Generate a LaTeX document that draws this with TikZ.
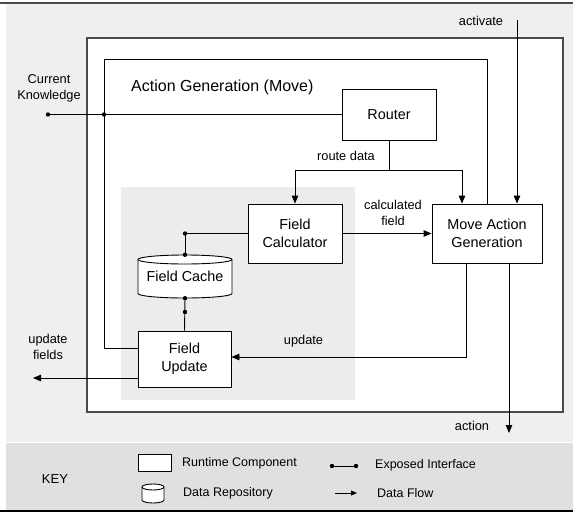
\documentclass[tikz,border=0pt]{standalone}
\usepackage{fontspec}
\setmainfont{Liberation Sans}
\usetikzlibrary{arrows.meta,calc}
\definecolor{panelgray}{HTML}{EFEFEF}
\definecolor{keygray}{HTML}{E0E0E0}
\definecolor{groupgray}{HTML}{ECECEC}
\definecolor{framegray}{HTML}{4A4A4A}
\tikzset{
  comp/.style={draw=black, fill=white, line width=0.9pt, align=center,
    font=\fontsize{14.4}{18}\selectfont, inner sep=0pt},
  lbl/.style={align=center, font=\fontsize{12.8}{16}\selectfont, inner sep=0pt},
  keytext/.style={anchor=west, font=\fontsize{12.5}{15}\selectfont, inner sep=0pt},
  wire/.style={line width=0.9pt, draw=black},
  flow/.style={wire, -{Triangle[length=8pt,width=6.5pt]}},
  dotmark/.style={fill=black},
}
\newcommand{\ifdot}[1]{\fill[dotmark] (#1) circle[radius=2.2pt];}
\begin{document}
\begin{tikzpicture}[x=1pt,y=-1pt]
\useasboundingbox (0,0) rectangle (573,514);

% page background bands
\fill[panelgray] (6,3) rectangle (573,442);
\fill[keygray] (6,443) rectangle (573,511);
\draw[framegray, line width=1.1pt] (0,3) -- (573,3);
\draw[black, line width=1.4pt] (0,511) -- (573,511);

% outer frame and grouping area
\draw[framegray, line width=1.1pt, fill=white] (87,38) rectangle (563,412);
\fill[groupgray] (121,187) rectangle (355,400);

% components
\node[comp, minimum width=94pt, minimum height=51pt] (router) at (389,114.5) {Router};
\node[comp, minimum width=94pt, minimum height=59pt] (fc) at (295,233.5) {Field\\Calculator};
\node[comp, minimum width=110pt, minimum height=59pt] (mag) at (487,233.5) {Move Action\\Generation};
\node[comp, minimum width=93pt, minimum height=56pt] (fu) at (184.5,359) {Field\\Update};

% data repository (cylinder drawn around its node)
\draw[line width=0.9pt, fill=white]
  (138,259.5) -- (138,293.5) arc[start angle=180, end angle=360, x radius=47pt, y radius=4.5pt]
  -- (232,259.5) arc[start angle=0, end angle=180, x radius=47pt, y radius=4.5pt] -- cycle;
\draw[line width=0.9pt] (138,259.5) arc[start angle=180, end angle=360, x radius=47pt, y radius=4.5pt];
\node[minimum width=94pt, minimum height=43pt, inner sep=0pt,
  font=\fontsize{14.4}{18}\selectfont] (cache) at (185,276.5) {Field Cache};

% labels
\node[anchor=west, inner sep=0pt, font=\fontsize{16}{19}\selectfont] (title) at (131,87) {Action Generation (Move)};
\node[lbl] (cklbl) at (49,88) {Current\\Knowledge};
\node[lbl] (rdlbl) at (346,156) {route data};
\node[lbl] (cflbl) at (393,213) {calculated\\field};
\node[lbl] (uplbl) at (303.5,341) {update};
\node[lbl] (uflbl) at (48,347) {update\\fields};
\node[lbl] (actlbl) at (481,21) {activate};
\node[lbl] (outlbl) at (472,426) {action};

% free connector ends
\coordinate (ck) at (48,114.5);
\coordinate (j1) at (104,114.5);
\coordinate (rsplit) at (389,170);
\coordinate (actin) at (517,20);
\coordinate (actout) at (509,433);
\coordinate (ufout) at (33,378);
\coordinate (fcjoin) at (185,233.5);
\coordinate (fuif) at (185,312);

% current knowledge into router, and its branches
\draw[wire] (ck) -- (router.west);
\draw[wire] (j1) |- ([yshift=11pt]fu.west);
\draw[wire] (j1) -- (104,59) -- (487,59) -- (mag.north);
\ifdot{ck}
\ifdot{j1}

% route data
\draw[wire] (router.south) -- (rsplit);
\draw[flow] (rsplit) -| (fc.north);
\draw[flow] (rsplit) -| ([xshift=-25pt]mag.north);

% activation and action
\draw[flow] (actin) -- (actin |- mag.north);
\draw[flow] ([xshift=22pt]mag.south) -- (actout);

% calculated field and update
\draw[flow] (fc.east) -- (mag.west);
\draw[flow] ([xshift=-21pt]mag.south) |- ([yshift=2pt]fu.east);
\draw[flow] ([yshift=-19pt]fu.west) -- (ufout);

% field cache interfaces
\draw[wire] (fc.west) -- (fcjoin) -- (cache.north);
\draw[wire] (cache.south) -- (fu.north);
\ifdot{fcjoin}
\ifdot{cache.north}
\ifdot{cache.south}
\ifdot{fuif}

% key
\node[inner sep=0pt, font=\fontsize{13}{15}\selectfont] (keylbl) at (55,479) {KEY};
\node[draw=black, fill=white, line width=0.9pt, minimum width=33pt, minimum height=17pt, inner sep=0pt] (keycomp) at (154.5,462.5) {};
\node[keytext] (keycomptxt) at (182,463) {Runtime Component};
\draw[line width=0.9pt, fill=white]
  (142,487) -- (142,500) arc[start angle=180, end angle=360, x radius=11pt, y radius=3pt]
  -- (164,487) arc[start angle=0, end angle=180, x radius=11pt, y radius=3pt] -- cycle;
\draw[line width=0.9pt] (142,487) arc[start angle=180, end angle=360, x radius=11pt, y radius=3pt];
\node[keytext] (keyrepotxt) at (183,493) {Data Repository};
\coordinate (keyifa) at (332,466);
\coordinate (keyifb) at (356,466);
\draw[wire] (keyifa) -- (keyifb);
\ifdot{keyifa}
\ifdot{keyifb}
\node[keytext] (keyiftxt) at (375,465) {Exposed Interface};
\coordinate (keyfla) at (335,493);
\coordinate (keyflb) at (357,493);
\draw[wire, -{Triangle[length=6pt,width=5pt]}] (keyfla) -- (keyflb);
\node[keytext] (keyfltxt) at (377,493) {Data Flow};
\end{tikzpicture}
\end{document}
